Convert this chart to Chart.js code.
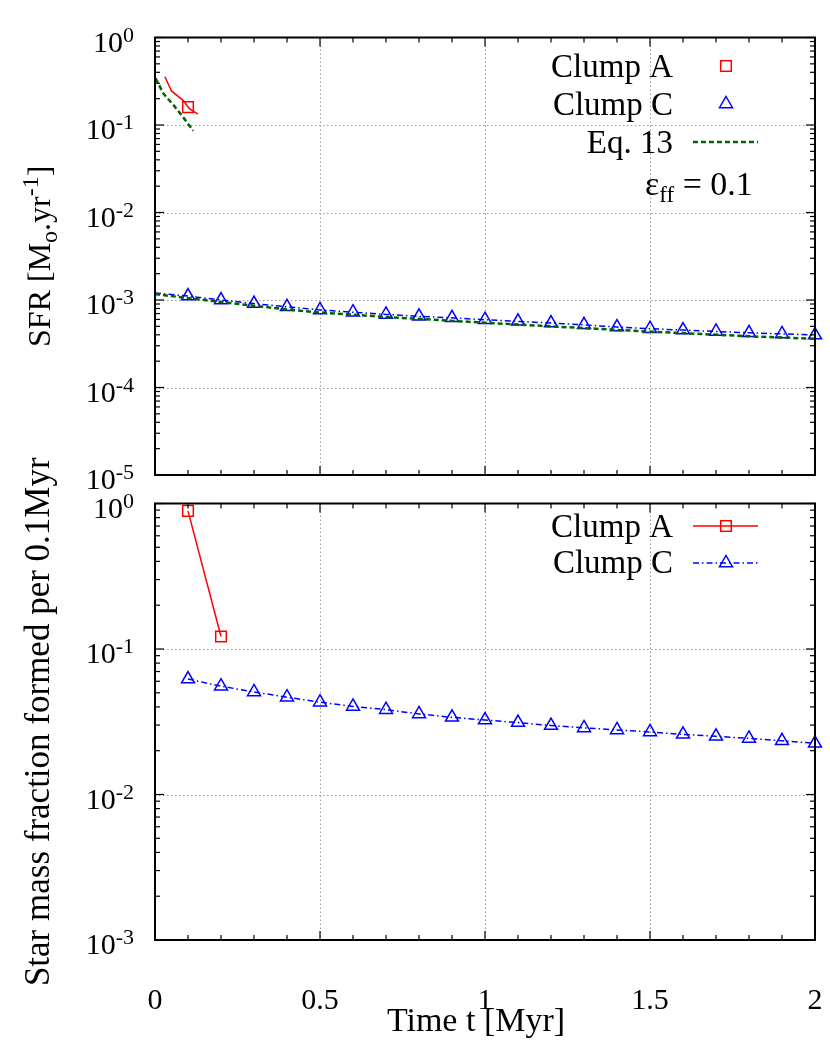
<!DOCTYPE html>
<html>
<head>
<meta charset="utf-8">
<script src="https://cdn.jsdelivr.net/npm/chart.js@4.4.0/dist/chart.umd.min.js"></script>
<style>
  html, body { margin: 0; padding: 0; background: #fff; }
  #wrap { position: relative; width: 830px; height: 1045px; }
  canvas { position: absolute; left: 0; }
  #topChart { top: 0; }
  #botChart { top: 440px; }
</style>
</head>
<body>
<div id="wrap">
  <canvas id="topChart" width="830" height="490"></canvas>
  <canvas id="botChart" width="830" height="605"></canvas>
</div>
<script>
// ── Données ──
const timeC = [0.1, 0.2, 0.3, 0.4, 0.5, 0.6, 0.7, 0.8, 0.9, 1.0,
               1.1, 1.2, 1.3, 1.4, 1.5, 1.6, 1.7, 1.8, 1.9, 2.0];

// panneau du haut : SFR
const sfrC = [1.11e-3, 1.0e-3, 9.1e-4, 8.35e-4, 7.7e-4, 7.25e-4, 6.85e-4, 6.5e-4, 6.25e-4, 5.95e-4,
              5.7e-4, 5.45e-4, 5.2e-4, 4.9e-4, 4.7e-4, 4.53e-4, 4.37e-4, 4.22e-4, 4.1e-4, 3.97e-4];
const sfrCLineT = [0.0].concat(timeC);
const sfrCLine  = [1.2e-3].concat(sfrC);

const sfrAT     = [0.1];
const sfrA      = [0.16];
const sfrALineT = [0.03, 0.05, 0.086, 0.104, 0.13];
const sfrALine  = [0.356, 0.245, 0.19, 0.154, 0.133];

const eqAT = [0.002, 0.025, 0.056, 0.086, 0.116];
const eqA  = [0.342, 0.23, 0.169, 0.122, 0.086];
const eqCT = [0.0, 0.1, 0.2, 0.3, 0.4, 0.5, 0.7, 1.0, 1.2, 1.5, 1.8, 2.0];
const eqC  = [1.17e-3, 1.05e-3, 9.5e-4, 8.6e-4, 7.8e-4, 7.2e-4, 6.4e-4, 5.5e-4, 5.0e-4, 4.35e-4, 3.85e-4, 3.6e-4];

// panneau du bas : fraction de masse par 0.1 Myr
const fracAT = [0.1, 0.2];
const fracA  = [0.89, 0.122];
const fracC  = [0.0622, 0.0555, 0.0507, 0.0466, 0.0431, 0.0403, 0.0383, 0.0358, 0.0339, 0.0325,
                0.0312, 0.0298, 0.0287, 0.0278, 0.0269, 0.0259, 0.0251, 0.0243, 0.0234, 0.0225];

const xTicks      = [0, 0.5, 1, 1.5, 2];
const xTickLabels = ['0', '0.5', '1', '1.5', '2'];
const topDecades  = [0, -1, -2, -3, -4, -5];
const botDecades  = [0, -1, -2, -3];

const FONT  = '"Liberation Serif", "Times New Roman", serif';
const RED   = '#ff0000';
const BLUE  = '#0000ff';
const GREEN = '#006400';

const pts = (ts, vs) => ts.map((t, i) => ({ x: t, y: vs[i] }));

// texte avec indices / exposants : [texte, taille, décalage vertical]
function drawRich(ctx, parts, x, y, align) {
  let w = 0;
  parts.forEach(p => { ctx.font = `${p[1]}px ${FONT}`; w += ctx.measureText(p[0]).width; });
  let cx = align === 'right' ? x - w : align === 'center' ? x - w / 2 : x;
  ctx.textAlign = 'left';
  ctx.textBaseline = 'alphabetic';
  parts.forEach(p => {
    ctx.font = `${p[1]}px ${FONT}`;
    ctx.fillText(p[0], cx, y + (p[2] || 0));
    cx += ctx.measureText(p[0]).width;
  });
}

function seg(ctx, x1, y1, x2, y2) {
  ctx.beginPath(); ctx.moveTo(x1, y1); ctx.lineTo(x2, y2); ctx.stroke();
}

function square(ctx, x, y, color) {
  ctx.strokeStyle = color; ctx.lineWidth = 1.5; ctx.setLineDash([]);
  ctx.strokeRect(x - 5.3, y - 5.3, 10.6, 10.6);
}

function triangle(ctx, x, y, color) {
  const r = 7.5;
  ctx.strokeStyle = color; ctx.lineWidth = 1.5; ctx.setLineDash([]);
  ctx.beginPath();
  ctx.moveTo(x, y - r);
  ctx.lineTo(x + r * 0.866, y + r / 2);
  ctx.lineTo(x - r * 0.866, y + r / 2);
  ctx.closePath();
  ctx.stroke();
}

// cadre, grille pointillée, graduations internes, étiquettes
function makeFrame(cfg) {
  return {
    id: 'frame',
    beforeDatasetsDraw(chart) {
      const { ctx, chartArea: a, scales: { x, y } } = chart;
      ctx.save();
      ctx.strokeStyle = '#9a9a9a';
      ctx.lineWidth = 1;
      ctx.setLineDash([1.5, 2.5]);
      xTicks.slice(1, -1).forEach(v => {
        const px = Math.round(x.getPixelForValue(v)) + 0.5;
        seg(ctx, px, a.top, px, a.bottom);
      });
      cfg.decades.slice(1, -1).forEach(d => {
        const py = Math.round(y.getPixelForValue(Math.pow(10, d))) + 0.5;
        seg(ctx, a.left, py, a.right, py);
      });
      ctx.restore();
    },
    afterDatasetsDraw(chart) {
      const { ctx, chartArea: a, scales: { x, y } } = chart;
      ctx.save();
      ctx.strokeStyle = '#000';
      ctx.lineWidth = 1.2;
      ctx.setLineDash([]);
      // graduations x
      for (let i = 0; i <= 20; i++) {
        const px = x.getPixelForValue(i / 10);
        const len = i % 5 === 0 ? 9 : 5;
        seg(ctx, px, a.bottom, px, a.bottom - len);
        seg(ctx, px, a.top, px, a.top + len);
      }
      // graduations y (log)
      cfg.decades.forEach(d => {
        for (let k = 1; k <= 9; k++) {
          const v = k * Math.pow(10, d);
          if (v > y.max * 1.0001 || v < y.min * 0.9999) continue;
          const py = y.getPixelForValue(v);
          const len = k === 1 ? 9 : 5;
          seg(ctx, a.left, py, a.left + len, py);
          seg(ctx, a.right, py, a.right - len, py);
        }
      });
      ctx.lineWidth = 2;
      ctx.strokeRect(a.left, a.top, a.right - a.left, a.bottom - a.top);

      ctx.fillStyle = '#000';
      // étiquettes y
      cfg.decades.forEach(d => {
        const py = y.getPixelForValue(Math.pow(10, d));
        drawRich(ctx, [['10', 30], [String(d), 22, -10]], 134, py + 14, 'right');
      });
      // étiquettes x
      if (cfg.xLabels) {
        ctx.font = `30px ${FONT}`;
        ctx.textAlign = 'center';
        ctx.textBaseline = 'alphabetic';
        xTicks.forEach((v, i) => ctx.fillText(xTickLabels[i], x.getPixelForValue(v), a.bottom + 69));
        drawRich(ctx, [['Time t [Myr]', 34]], 476, a.bottom + 91, 'center');
      }
      // titre y
      ctx.save();
      ctx.translate(cfg.yTitleX, (a.top + a.bottom) / 2);
      ctx.rotate(-Math.PI / 2);
      drawRich(ctx, cfg.yTitle, 0, 0, 'center');
      ctx.restore();

      cfg.legend(ctx, a);
      ctx.restore();
    },
  };
}

function baseOptions(padTop, xHeight, ymin) {
  return {
    responsive: false,
    animation: false,
    layout: { padding: { top: padTop, right: 15, left: 0, bottom: 0 }, autoPadding: false },
    plugins: { legend: { display: false }, tooltip: { enabled: false } },
    scales: {
      x: {
        type: 'linear', min: 0, max: 2,
        ticks: { display: false }, grid: { display: false }, border: { display: false },
        afterFit: s => { s.height = xHeight; },
      },
      y: {
        type: 'logarithmic', min: ymin, max: 1,
        ticks: { display: false }, grid: { display: false }, border: { display: false },
        afterFit: s => { s.width = 155; },
      },
    },
  };
}

const lineDs = (data, color, width, dash) => ({
  data, borderColor: color, borderWidth: width, borderDash: dash || [],
  pointRadius: 0, fill: false, tension: 0, clip: false,
});

const pointDs = (data, color, style) => ({
  data, showLine: false, borderColor: color, backgroundColor: 'transparent',
  pointStyle: style, pointRadius: 7.5, pointBorderWidth: 1.5, clip: false,
});

// ── Panneau du haut ──
new Chart(document.getElementById('topChart'), {
  type: 'line',
  data: {
    datasets: [
      lineDs(pts(eqAT, eqA), GREEN, 2.5, [5, 3]),
      lineDs(pts(eqCT, eqC), GREEN, 2.5, [5, 3]),
      lineDs(pts(sfrCLineT, sfrCLine), BLUE, 1.5, [6, 3, 1.5, 3]),
      lineDs(pts(sfrALineT, sfrALine), RED, 1.5),
      pointDs(pts(sfrAT, sfrA), RED, 'rect'),
      pointDs(pts(timeC, sfrC), BLUE, 'triangle'),
    ],
  },
  options: baseOptions(37.5, 15, 1e-5),
  plugins: [makeFrame({
    decades: topDecades,
    xLabels: false,
    yTitleX: 50,
    yTitle: [['SFR [M', 32], ['o', 24, 7], ['.yr', 32], ['-1', 24, -12], [']', 32]],
    legend: (ctx, a) => {
      const t = a.top; // 37.5
      ctx.fillStyle = '#000';
      drawRich(ctx, [['Clump A', 33]], 673, t + 39.5, 'right');
      drawRich(ctx, [['Clump C', 33]], 673, t + 77.5, 'right');
      drawRich(ctx, [['Eq. 13', 33]], 673, t + 115.5, 'right');
      square(ctx, 726, t + 28.5, RED);
      triangle(ctx, 726, t + 66.5, BLUE);
      ctx.strokeStyle = GREEN; ctx.lineWidth = 2.5; ctx.setLineDash([5, 3]);
      seg(ctx, 693, t + 104.5, 758, t + 104.5);
      ctx.setLineDash([]);
      ctx.fillStyle = '#000';
      drawRich(ctx, [['\u03b5', 34], ['ff', 23, 7], [' = 0.1', 34]], 645, t + 157.5, 'left');
    },
  })],
});

// ── Panneau du bas ──
new Chart(document.getElementById('botChart'), {
  type: 'line',
  data: {
    datasets: [
      {
        data: pts(fracAT, fracA), borderColor: RED, borderWidth: 1.5, backgroundColor: 'transparent',
        pointStyle: 'rect', pointRadius: 7.5, pointBorderWidth: 1.5, tension: 0, clip: false,
      },
      {
        data: pts(timeC, fracC), borderColor: BLUE, borderWidth: 1.5, borderDash: [6, 3, 1.5, 3],
        backgroundColor: 'transparent', pointStyle: 'triangle', pointRadius: 7.5, pointBorderWidth: 1.5,
        tension: 0, clip: false,
      },
    ],
  },
  options: baseOptions(63.5, 105, 1e-3),
  plugins: [makeFrame({
    decades: botDecades,
    xLabels: true,
    yTitleX: 49,
    yTitle: [['Star mass fraction formed per 0.1Myr', 35]],
    legend: (ctx, a) => {
      const t = a.top; // 503.5 dans la page
      ctx.fillStyle = '#000';
      drawRich(ctx, [['Clump A', 33]], 673, t + 33.5, 'right');
      drawRich(ctx, [['Clump C', 33]], 673, t + 69.5, 'right');
      ctx.strokeStyle = RED; ctx.lineWidth = 1.5; ctx.setLineDash([]);
      seg(ctx, 693, t + 22.5, 758, t + 22.5);
      square(ctx, 726, t + 22.5, RED);
      ctx.strokeStyle = BLUE; ctx.lineWidth = 1.5; ctx.setLineDash([6, 3, 1.5, 3]);
      seg(ctx, 693, t + 59.5, 758, t + 59.5);
      triangle(ctx, 726, t + 59.5, BLUE);
    },
  })],
});
</script>
</body>
</html>
